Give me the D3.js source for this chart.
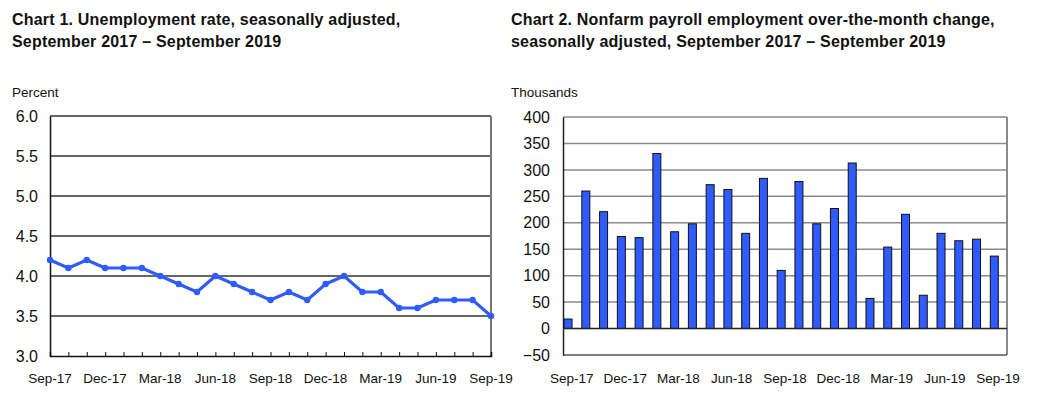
<!DOCTYPE html>
<html>
<head>
<meta charset="utf-8">
<script src="https://cdn.jsdelivr.net/npm/d3@7"></script>
<style>
  body { margin: 0; background: #fff; }
  svg { display: block; font-family: "Liberation Sans", Arial, sans-serif; }
</style>
</head>
<body>
<svg id="chart" width="1037" height="398"></svg>
<script>
// months shared by both charts
const months = ["Sep-17","Oct-17","Nov-17","Dec-17","Jan-18","Feb-18","Mar-18","Apr-18","May-18",
  "Jun-18","Jul-18","Aug-18","Sep-18","Oct-18","Nov-18","Dec-18","Jan-19","Feb-19","Mar-19",
  "Apr-19","May-19","Jun-19","Jul-19","Aug-19","Sep-19"];
const tickLabels = ["Sep-17","Dec-17","Mar-18","Jun-18","Sep-18","Dec-18","Mar-19","Jun-19","Sep-19"];

// chart 1: unemployment rate, percent
const unemployment = [4.2,4.1,4.2,4.1,4.1,4.1,4.0,3.9,3.8,4.0,3.9,3.8,3.7,3.8,3.7,3.9,4.0,3.8,3.8,3.6,3.6,3.7,3.7,3.7,3.5];
const rateTicks = [3.0,3.5,4.0,4.5,5.0,5.5,6.0];

// chart 2: payroll change, thousands
const payroll = [18,260,221,174,172,331,183,198,272,263,180,284,110,278,198,227,313,57,154,216,63,180,166,169,137];
const payrollTicks = [-50,0,50,100,150,200,250,300,350,400];

const svg = d3.select("#chart");
const blue = "#2f5bff";

function title(x, lines) {
  const t = svg.append("text").attr("x", x).attr("y", 25)
    .attr("font-size", 16).attr("font-weight", "bold").attr("fill", "#111")
    .attr("letter-spacing", 0.2);
  lines.forEach((l, i) => t.append("tspan").attr("x", x).attr("y", 25 + i * 22).text(l));
}

// ---------- Chart 1 ----------
title(12, ["Chart 1. Unemployment rate, seasonally adjusted,", "September 2017 \u2013 September 2019"]);
svg.append("text").attr("x", 12).attr("y", 97).attr("font-size", 13.5).attr("fill", "#111").text("Percent");

const x1 = d3.scalePoint().domain(months).range([50, 491]);
const y1 = d3.scaleLinear().domain([3, 6]).range([356, 116]);

const g1 = svg.append("g");
g1.selectAll("line.grid").data(rateTicks.filter(d => d > 3)).join("line")
  .attr("x1", 50).attr("x2", 491)
  .attr("y1", d => y1(d)).attr("y2", d => y1(d))
  .attr("stroke", "#333").attr("stroke-width", 1.5);
// right border
g1.append("line").attr("x1", 491).attr("x2", 491).attr("y1", y1(6)).attr("y2", y1(3))
  .attr("stroke", "#777").attr("stroke-width", 2);

const yAxis1 = g1.append("g").attr("transform", "translate(50,0)")
  .call(d3.axisLeft(y1).tickValues(rateTicks).tickFormat(d3.format(".1f")).tickSize(0).tickPadding(12));
yAxis1.select(".domain").attr("stroke", "#111").attr("stroke-width", 1.5);
yAxis1.selectAll("text").attr("font-size", 16).attr("fill", "#111")
  .attr("font-family", "Liberation Sans, Arial, sans-serif");

const xAxis1 = g1.append("g").attr("transform", "translate(0,356)")
  .call(d3.axisBottom(x1).tickSize(-4).tickPadding(0).tickFormat(""));
xAxis1.select(".domain").attr("stroke", "#111").attr("stroke-width", 1.5);
xAxis1.selectAll(".tick line").attr("stroke", "#111");
g1.selectAll("text.xl").data(tickLabels).join("text")
  .attr("x", d => x1(d)).attr("y", 383).attr("text-anchor", "middle")
  .attr("font-size", 13.5).attr("fill", "#111").text(d => d);

g1.append("path").datum(unemployment)
  .attr("fill", "none").attr("stroke", blue).attr("stroke-width", 3).attr("stroke-linejoin", "round")
  .attr("d", d3.line().x((d, i) => x1(months[i])).y(d => y1(d)));
g1.selectAll("circle").data(unemployment).join("circle")
  .attr("cx", (d, i) => x1(months[i])).attr("cy", d => y1(d)).attr("r", 3.2).attr("fill", blue);

// ---------- Chart 2 ----------
title(511, ["Chart 2. Nonfarm payroll employment over-the-month change,", "seasonally adjusted, September 2017 \u2013 September 2019"]);
svg.append("text").attr("x", 511).attr("y", 97).attr("font-size", 13.5).attr("fill", "#111").text("Thousands");

const x2 = d3.scaleBand().domain(months).range([563, 1007]);
const y2 = d3.scaleLinear().domain([-50, 400]).range([355, 117]);

const g2 = svg.append("g");
g2.selectAll("line.grid").data(payrollTicks.filter(d => d > -50 && d !== 0)).join("line")
  .attr("x1", 563).attr("x2", 1007)
  .attr("y1", d => y2(d)).attr("y2", d => y2(d))
  .attr("stroke", "#8a8a8a").attr("stroke-width", 1.5);
g2.append("line").attr("x1", 1007).attr("x2", 1007).attr("y1", y2(400)).attr("y2", y2(-50))
  .attr("stroke", "#888").attr("stroke-width", 2);
g2.append("line").attr("x1", 563).attr("x2", 1007).attr("y1", y2(-50)).attr("y2", y2(-50))
  .attr("stroke", "#555").attr("stroke-width", 1.5);

const yAxis2 = g2.append("g").attr("transform", "translate(563,0)")
  .call(d3.axisLeft(y2).tickValues(payrollTicks).tickSize(0).tickPadding(13));
yAxis2.select(".domain").attr("stroke", "#222").attr("stroke-width", 1.5);
yAxis2.selectAll("text").attr("font-size", 16).attr("fill", "#111")
  .attr("font-family", "Liberation Sans, Arial, sans-serif");

g2.selectAll("rect").data(payroll).join("rect")
  .attr("x", (d, i) => x2(months[i]) + x2.bandwidth() * 0.06)
  .attr("width", x2.bandwidth() * 0.45)
  .attr("y", d => y2(Math.max(0, d)))
  .attr("height", d => Math.abs(y2(d) - y2(0)))
  .attr("fill", blue).attr("stroke", "#111").attr("stroke-width", 1);

g2.append("line").attr("x1", 563).attr("x2", 1007).attr("y1", y2(0)).attr("y2", y2(0))
  .attr("stroke", "#222").attr("stroke-width", 1.5);

g2.selectAll("text.xl").data(tickLabels).join("text")
  .attr("x", d => x2(d) + x2.bandwidth() / 2).attr("y", 383).attr("text-anchor", "middle")
  .attr("font-size", 13.5).attr("fill", "#111").text(d => d);
</script>
</body>
</html>
